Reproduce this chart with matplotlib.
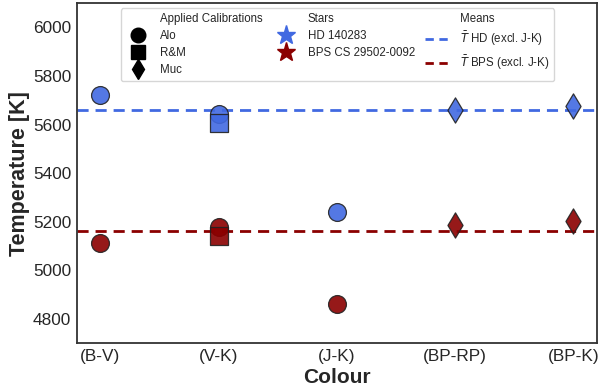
import numpy as np
import matplotlib.pyplot as plt
from matplotlib.lines import Line2D

plt.rcParams['font.family'] = ['Liberation Sans', 'DejaVu Sans']
plt.rcParams['text.color'] = '#262626'
plt.rcParams['axes.labelcolor'] = '#262626'
plt.rcParams['xtick.color'] = '#262626'
plt.rcParams['ytick.color'] = '#262626'

colours = ['(B-V)', '(V-K)', '(J-K)', '(BP-RP)', '(BP-K)']

# temperatures per star / calibration (index into colours)
hd_alo_x = [0, 1, 2]
hd_alo = [5721, 5643, 5238]
hd_rm_x = [1]
hd_rm = [5606]
hd_muc_x = [3, 4]
hd_muc = [5659, 5676]

bps_alo_x = [0, 1, 2]
bps_alo = [5111, 5177, 4862]
bps_rm_x = [1]
bps_rm = [5140]
bps_muc_x = [3, 4]
bps_muc = [5185, 5201]

blue = 'royalblue'
red = 'darkred'

# means excluding J-K
hd_mean = np.mean([hd_alo[0], hd_alo[1], hd_rm[0]] + hd_muc)
bps_mean = np.mean([bps_alo[0], bps_alo[1], bps_rm[0]] + bps_muc)

fig = plt.figure(figsize=(6, 3.92), dpi=100)
ax = fig.add_axes([0.128, 0.125, 0.867, 0.867])

kw = dict(s=165, edgecolor='#222222', linewidth=0.9, alpha=0.9, zorder=3)
ax.scatter(hd_alo_x, hd_alo, marker='o', color=blue, **kw)
ax.scatter(hd_rm_x, hd_rm, marker='s', color=blue, **kw)
ax.scatter(hd_muc_x, hd_muc, marker='d', color=blue, **kw)
ax.scatter(bps_alo_x, bps_alo, marker='o', color=red, **kw)
ax.scatter(bps_rm_x, bps_rm, marker='s', color=red, **kw)
ax.scatter(bps_muc_x, bps_muc, marker='d', color=red, **kw)

ax.axhline(hd_mean, color=blue, ls='--', lw=2, dashes=(4, 2.5), zorder=2)
ax.axhline(bps_mean, color=red, ls='--', lw=2, dashes=(4, 2.5), zorder=2)

ax.set_xlim(-0.2, 4.2)
ax.set_ylim(4700, 6100)
ax.set_xticks(range(len(colours)))
ax.set_xticklabels(colours)
ax.set_yticks(np.arange(4800, 6001, 200))
ax.tick_params(length=0, labelsize=12.4, pad=4)
for s in ax.spines.values():
    s.set_color('#333333')
    s.set_linewidth(1.3)
ax.set_xlabel('Colour', fontsize=15, fontweight='bold', labelpad=3)
ax.set_ylabel('Temperature [K]', fontsize=15.5, fontweight='bold', labelpad=2)

blank = Line2D([], [], ls='none', marker=None)
handles = [
    blank,
    Line2D([], [], ls='none', marker='o', color='black', markersize=10.5),
    Line2D([], [], ls='none', marker='s', color='black', markersize=10.5),
    Line2D([], [], ls='none', marker='d', color='black', markersize=10.5),
    blank,
    Line2D([], [], ls='none', marker='*', color=blue, markersize=14),
    Line2D([], [], ls='none', marker='*', color=red, markersize=14),
    blank,
    Line2D([], [], color=blue, ls='--', lw=2, dashes=(3, 2)),
    Line2D([], [], color=red, ls='--', lw=2, dashes=(3, 2)),
]
labels = ['Applied Calibrations', 'Alo', 'R&M', 'Muc',
          'Stars', 'HD 140283', 'BPS CS 29502-0092',
          'Means', r'$\bar{T}$ HD (excl. J-K)', r'$\bar{T}$ BPS (excl. J-K)']
ax.legend(handles, labels, ncol=3, loc='upper left', bbox_to_anchor=(0.085, 0.985),
          fontsize=8.3, frameon=True, edgecolor='#cccccc', fancybox=True,
          handlelength=2.2, handletextpad=0.8, labelspacing=0.45,
          columnspacing=0.9, borderpad=0.4, borderaxespad=0)

fig.savefig('out.png', dpi=100)
